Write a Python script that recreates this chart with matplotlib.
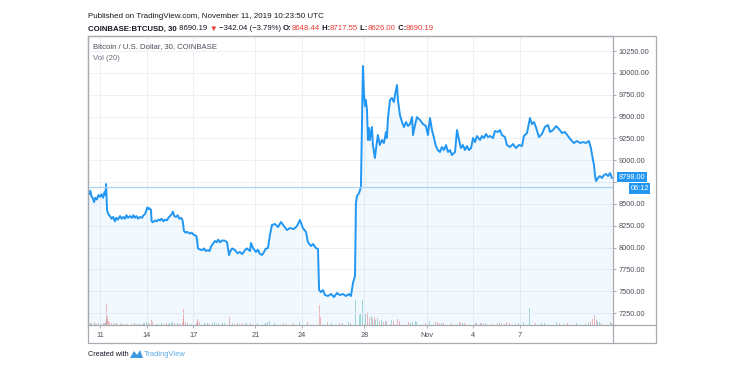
import numpy as np
import matplotlib.pyplot as plt
from matplotlib.patches import Rectangle, Polygon
from matplotlib.lines import Line2D

plt.rcParams['font.family'] = ['Liberation Sans', 'DejaVu Sans']

# BTCUSD 30 min, Coinbase (x = day of Oct, Nov 1 = 32)
t_a = [10.23, 10.30, 10.38, 10.45, 10.55, 10.62, 10.70, 10.80, 10.90, 11.00,
       11.10, 11.20, 11.30, 11.36, 11.39, 11.43, 11.46, 11.55, 11.64, 11.75,
       11.85, 11.96, 12.05, 12.15, 12.29, 12.40, 12.50, 12.61, 12.70, 12.80,
       12.93, 13.05, 13.15, 13.25, 13.35, 13.45, 13.57, 13.70, 13.80, 13.89,
       13.97, 14.05, 14.12, 14.20, 14.28, 14.32, 14.40, 14.54, 14.65, 14.75,
       14.86, 14.96, 15.08, 15.18, 15.30, 15.40, 15.50, 15.60, 15.69, 15.78,
       15.89, 16.00, 16.10, 16.21, 16.30, 16.36, 16.40, 16.50, 16.60, 16.79,
       16.90, 17.00, 17.11, 17.20, 17.26, 17.30, 17.40, 17.56, 17.70, 17.80,
       17.94, 18.05, 18.14, 18.25, 18.39, 18.50, 18.60, 18.72, 18.85, 19.00]
p_a = [8640, 8610, 8650, 8590, 8560, 8520, 8570, 8550, 8600, 8580,
       8610, 8570, 8640, 8600, 8727, 8560, 8420, 8380, 8360, 8330,
       8350, 8300, 8340, 8320, 8360, 8330, 8350, 8330, 8370, 8340,
       8360, 8340, 8370, 8340, 8360, 8330, 8350, 8340, 8370, 8380,
       8420, 8460, 8440, 8450, 8430, 8300, 8290, 8310, 8300, 8320,
       8310, 8330, 8300, 8320, 8310, 8340, 8360, 8380, 8410, 8360,
       8350, 8370, 8330, 8340, 8320, 8250, 8190, 8170, 8180, 8160,
       8170, 8150, 8140, 8130, 8060, 7990, 7980, 7970, 7990, 7960,
       7970, 7960, 8010, 8040, 8075, 8060, 8090, 8060, 8080, 8080]
v_a = [150, 120, 200, 180, 250, 300, 150, 120, 180, 200,
       150, 180, 250, 300, 600, 2100, 900, 400, 300, 200,
       150, 250, 180, 150, 120, 200, 150, 180, 120, 150,
       100, 150, 120, 180, 100, 150, 120, 150, 200, 250,
       350, 300, 200, 150, 250, 500, 300, 200, 150, 120,
       150, 200, 150, 500, 200, 150, 180, 250, 300, 250,
       150, 200, 150, 180, 200, 1600, 600, 300, 250, 200,
       150, 180, 200, 250, 400, 600, 350, 250, 200, 150,
       180, 150, 250, 200, 300, 150, 200, 150, 180, 200]

t_b = [19.17, 19.30, 19.36, 19.50, 19.68, 19.84, 20.00, 20.15, 20.33, 20.45,
       20.65, 20.71, 20.84, 21.03, 21.15, 21.29, 21.42, 21.55, 21.65, 21.80,
       21.93, 22.06, 22.25, 22.45, 22.64, 22.83, 23.02, 23.22, 23.47, 23.67,
       23.86, 24.05, 24.25, 24.37, 24.57, 24.70, 24.89, 25.02, 25.09, 25.21,
       25.34, 25.47, 25.66, 25.86, 26.05, 26.24, 26.43, 26.62, 26.82, 27.01,
       27.14, 27.27, 27.40, 27.46, 27.53, 27.66, 27.78, 27.85]
p_b = [8063, 7914, 7949, 7990, 7972, 7935, 7949, 7925, 7972, 7990,
       7960, 8052, 7994, 7949, 7975, 7926, 7915, 7949, 7985, 7994,
       8143, 8258, 8269, 8235, 8292, 8246, 8200, 8223, 8212, 8246,
       8315, 8223, 8178, 8063, 8017, 8040, 7994, 7983, 7513, 7490,
       7513, 7456, 7445, 7468, 7433, 7479, 7456, 7468, 7445, 7468,
       7445, 7594, 7674, 8510, 8590, 8624, 8693, 9460]
v_b = [300, 800, 300, 200, 150, 200, 150, 180, 150, 200,
       250, 400, 200, 150, 180, 150, 200, 150, 180, 300,
       400, 350, 250, 200, 250, 200, 150, 200, 180, 250,
       300, 250, 200, 350, 250, 200, 250, 600, 2000, 800,
       1500, 500, 300, 250, 300, 200, 250, 200, 250, 300,
       250, 900, 3500, 2500, 1500, 1000, 1200, 7200]

t_c = [27.91, 27.98, 28.04, 28.10, 28.17, 28.23, 28.30, 28.36, 28.49, 28.55,
       28.68, 28.74, 28.87, 29.00, 29.13, 29.26, 29.39, 29.45, 29.52, 29.65,
       29.77, 29.90, 29.97, 30.10, 30.16, 30.29, 30.42, 30.55, 30.68, 30.81,
       30.94, 31.07, 31.13, 31.26, 31.38, 31.58, 31.77, 31.96, 32.09, 32.22,
       32.35, 32.48, 32.60, 32.73, 32.86, 32.99, 33.12, 33.25, 33.38, 33.51,
       33.63, 33.83, 33.96, 34.09, 34.21, 34.34, 34.47, 34.60, 34.73, 34.86,
       34.99, 35.12, 35.24, 35.44]
p_c = [10078, 9746, 9620, 9689, 9574, 9231, 9368, 9231, 9380, 9174,
       9025, 9116, 9288, 9174, 9231, 9197, 9323, 9254, 9483, 9689,
       9712, 9666, 9746, 9861, 9689, 9517, 9437, 9380, 9437, 9391,
       9414, 9494, 9288, 9403, 9494, 9460, 9414, 9391, 9288, 9483,
       9345, 9254, 9162, 9116, 9094, 9151, 9116, 9174, 9094, 9116,
       9059, 9094, 9345, 9231, 9139, 9174, 9116, 9162, 9116, 9139,
       9254, 9208, 9277, 9231]
v_c = [2500, 3500, 1500, 1200, 900, 1300, 800, 700, 900, 600,
       800, 500, 700, 400, 500, 350, 450, 400, 600, 800,
       500, 400, 500, 700, 600, 400, 350, 300, 250, 300,
       250, 300, 1700, 400, 300, 250, 300, 250, 1600, 400,
       300, 250, 300, 350, 200, 250, 200, 250, 200, 150,
       200, 250, 400, 300, 200, 250, 200, 150, 200, 150,
       250, 200, 250, 200]

t_d = [35.56, 35.69, 35.82, 35.95, 36.08, 36.27, 36.40, 36.59, 36.72, 36.85,
       37.04, 37.17, 37.36, 37.56, 37.75, 37.94, 38.14, 38.26, 38.46, 38.65,
       38.78, 38.91, 39.03, 39.23, 39.42, 39.61, 39.81, 39.94, 40.13, 40.33,
       40.52, 40.71, 40.90, 41.09, 41.29, 41.48, 41.67, 41.87, 42.06, 42.25,
       42.44, 42.57, 42.70, 42.77, 42.83, 42.90, 43.02, 43.15, 43.28, 43.41,
       43.54, 43.67, 43.80, 43.92]
p_d = [9277, 9254, 9300, 9265, 9277, 9254, 9334, 9323, 9345, 9288,
       9265, 9174, 9151, 9185, 9139, 9174, 9162, 9277, 9311, 9483,
       9414, 9437, 9380, 9265, 9300, 9380, 9403, 9323, 9345, 9391,
       9357, 9311, 9323, 9277, 9231, 9197, 9220, 9197, 9208, 9197,
       9220, 9139, 9002, 8945, 8830, 8762, 8796, 8819, 8796, 8830,
       8842, 8819, 8853, 8798]
v_d = [200, 150, 200, 150, 180, 150, 250, 200, 250, 200,
       150, 300, 250, 200, 150, 200, 150, 300, 350, 1700,
       400, 300, 250, 300, 200, 250, 200, 250, 200, 300,
       250, 200, 150, 200, 250, 300, 200, 150, 200, 150,
       200, 400, 600, 700, 1000, 500, 400, 300, 250, 200,
       250, 200, 300, 250]

day_ticks = [11, 14, 17, 21, 24, 28, 32, 35, 38]
day_labels = ['11', '14', '17', '21', '24', '28', 'Nov', '4', '7']
price_ticks = [7250, 7500, 7750, 8000, 8250, 8500, 8750, 9000, 9250, 9500, 9750, 10000, 10250]
close_line = 8690.19
last_price = 8798.00
countdown = '06:12'

t = np.array(t_a + t_b + t_c + t_d)
price = np.array(p_a + p_b + p_c + p_d, dtype=float)
vol = np.array(v_a + v_b + v_c + v_d, dtype=float)
up = np.diff(price, prepend=price[0]) >= 0

W, H = 750, 375
def fx(px):
    return px / W
def fy(py):
    return 1 - py / H

L, R, T, B = 88, 613, 36, 325
frame = '#a7aab0'
txt = '#131722'
blue = '#2196f3'
red = '#e53935'

fig = plt.figure(figsize=(7.5, 3.75), dpi=100)
ax = fig.add_axes([fx(L), fy(B), fx(R) - fx(L), fy(T) - fy(B)])
ax_vol = ax.twinx()
ax.set_zorder(ax_vol.get_zorder() + 1)
ax.patch.set_visible(False)

# volume
ax_vol.bar(t, vol, width=0.06, color=np.where(up, '#26a69a', '#ef5350'), alpha=0.4, lw=0)
ax_vol.set_ylim(0, 28900)
ax_vol.set_yticks([])
for s in ax_vol.spines.values():
    s.set_visible(False)

# price
ylo, yhi = 7113, 10422
ax.fill_between(t, price, ylo, color=blue, alpha=0.06, lw=0)
ax.plot(t, price, color=blue, lw=1.4, solid_joinstyle='round')
ax.axhline(close_line, color='#a9d3f5', lw=0.9)
ax.set_xlim(10.23, 43.99)
ax.set_ylim(ylo, yhi)

ax.set_xticks(day_ticks, day_labels)
ax.yaxis.tick_right()
# the label under the last-price box is hidden, as on the chart
ax.set_yticks(price_ticks, ['' if abs(v - last_price) < 100 else f'{v:.2f}' for v in price_ticks])
ax.tick_params(axis='both', colors=frame, labelcolor='#4a4f5a', labelsize=5.3,
               length=2.2, width=0.7)
ax.tick_params(axis='x', pad=2.5)
ax.tick_params(axis='y', pad=2)
ax.grid(True, color='#edf1f6', lw=0.7)
ax.set_axisbelow(True)
for s in ax.spines.values():
    s.set_color(frame)
    s.set_linewidth(0.9)

# outer frame of the chart
fig.add_artist(Rectangle((fx(L), fy(343)), fx(656) - fx(L), fy(T) - fy(343),
                         transform=fig.transFigure, fill=False, ec=frame, lw=0.9))
fig.add_artist(Line2D([fx(R), fx(656)], [fy(B), fy(B)], transform=fig.transFigure, color=frame, lw=0.9))
fig.add_artist(Line2D([fx(R), fx(R)], [fy(B), fy(343)], transform=fig.transFigure, color=frame, lw=0.9))

# last price labels
ax.annotate(f'{last_price:.2f}', xy=(1, last_price), xycoords=('axes fraction', 'data'),
            xytext=(4.0, 0.5), textcoords='offset points', ha='left', va='center',
            fontsize=5.3, color='white', annotation_clip=False,
            bbox=dict(boxstyle='square,pad=0.22', fc=blue, ec='none'))
ax.annotate(countdown, xy=(1, last_price), xycoords=('axes fraction', 'data'),
            xytext=(12.5, -7.6), textcoords='offset points', ha='left', va='center',
            fontsize=5.3, color='white', annotation_clip=False,
            bbox=dict(boxstyle='square,pad=0.22', fc=blue, ec='none'))

# header
fs = 5.8
fig.text(fx(88), fy(17), 'Published on TradingView.com, November 11, 2019 10:23:50 UTC',
         fontsize=fs, color=txt, va='center')
parts = [('COINBASE:BTCUSD, 30', txt, 'bold'), (' 8690.19 ', txt, 'normal'),
         ('\u25bc', red, 'normal'), (' \u2212342.04 (\u22123.79%) ', txt, 'normal'),
         ('O:', txt, 'bold'), ('8648.44', red, 'normal'),
         (' H:', txt, 'bold'), ('8717.55', red, 'normal'),
         (' L:', txt, 'bold'), ('8626.00', red, 'normal'),
         (' C:', txt, 'bold'), ('8690.19', red, 'normal')]
prev = fig.text(fx(88), fy(29), parts[0][0], fontsize=5.6, color=parts[0][1],
                fontweight=parts[0][2], va='center')
for s, c, w in parts[1:]:
    prev = ax.annotate(s, xy=(1, 0), xycoords=prev, ha='left', va='bottom',
                       fontsize=5.6, color=c, fontweight=w, annotation_clip=False)

fig.text(fx(93), fy(47), 'Bitcoin / U.S. Dollar, 30, COINBASE', fontsize=5.6,
         color='#4a4f5a', va='center')
fig.text(fx(93), fy(58), 'Vol (20)', fontsize=5.6, color='#6a6f7a', va='center')

# footer
fig.text(fx(88), fy(354), 'Created with', fontsize=5.2, color=txt, va='center')
logo = [(130, 358), (134, 351), (137, 355), (140, 350), (143, 358)]
fig.add_artist(Polygon([(fx(a), fy(b)) for a, b in logo], closed=True,
                       transform=fig.transFigure, fc='#3d9ae0', ec='none'))
fig.text(fx(144), fy(354), 'TradingView', fontsize=5.4, color='#5aaae6', va='center')

fig.savefig('out.png', dpi=100, facecolor='white')
